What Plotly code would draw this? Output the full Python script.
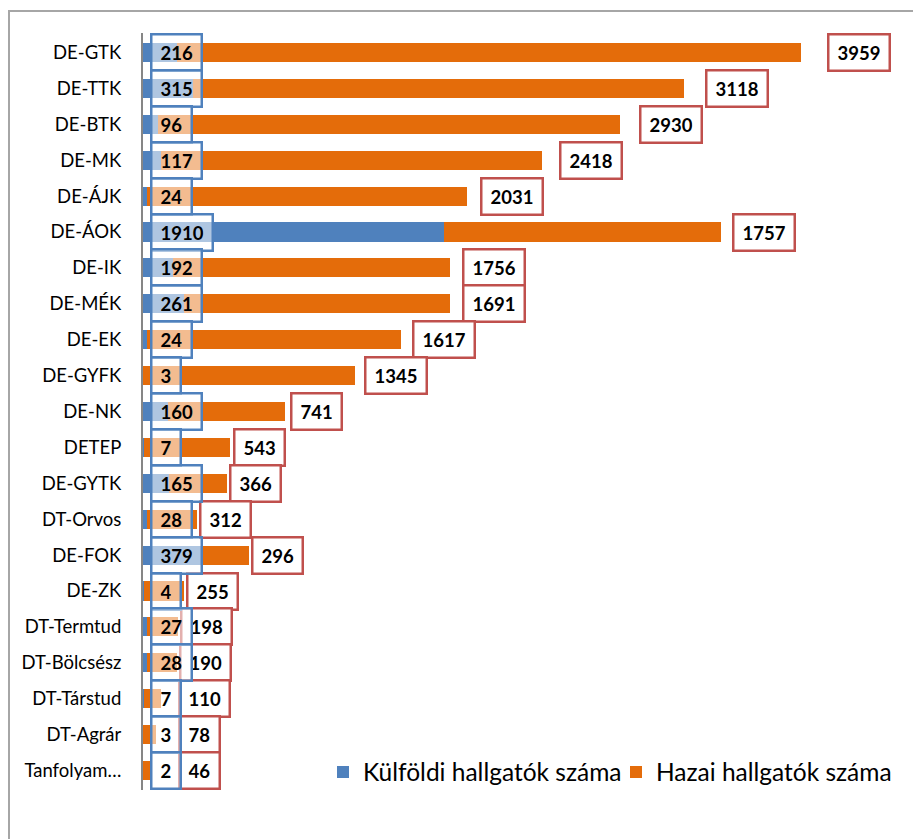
import plotly.graph_objects as go

categories = ["DE-GTK", "DE-TTK", "DE-BTK", "DE-MK", "DE-ÁJK", "DE-ÁOK", "DE-IK", "DE-MÉK",
              "DE-EK", "DE-GYFK", "DE-NK", "DETEP", "DE-GYTK", "DT-Orvos", "DE-FOK", "DE-ZK",
              "DT-Termtud", "DT-Bölcsész", "DT-Társtud", "DT-Agrár", "Tanfolyam…"]
kulfoldi = [216, 315, 96, 117, 24, 1910, 192, 261, 24, 3, 160, 7, 165, 28, 379, 4, 27, 28, 7, 3, 2]
hazai = [3959, 3118, 2930, 2418, 2031, 1757, 1756, 1691, 1617, 1345, 741, 543, 366, 312, 296,
         255, 198, 190, 110, 78, 46]
series_names = ["Külföldi hallgatók száma", "Hazai hallgatók száma"]

BLUE = "#4F81BD"
ORANGE = "#E46C0A"
RED = "#C0504D"
FONT = "Lato"

# page has an 8px body margin: figure sits at (8, 8) in the window
W, H = 913, 831
ML, MR, MT, MB = 135, 0, 25, 49
pw = W - ML - MR
ph = H - MT - MB
XMAX = 4940

fig = go.Figure()
fig.add_trace(go.Bar(y=categories, x=kulfoldi, orientation="h", name=series_names[0],
                     marker=dict(color=BLUE, line=dict(width=0))))
fig.add_trace(go.Bar(y=categories, x=hazai, orientation="h", name=series_names[1],
                     marker=dict(color=ORANGE, line=dict(width=0))))

label_style = dict(showarrow=False, xanchor="left", yanchor="middle", valign="middle",
                   font=dict(family=FONT, size=18.5, color="black"),
                   borderwidth=2.5, borderpad=8, height=18)

annotations = []
# domestic-student labels (beyond bar end)
for c, k, h in zip(categories, kulfoldi, hazai):
    tot = k + h
    xpos = max(tot + 0.043 * h, 222)
    annotations.append(dict(x=xpos, y=c, xref="x", yref="y", text=f"<b>{h}</b>",
                            bgcolor="white", bordercolor=RED, **label_style))
# foreign-student labels (inside base)
for c, k in zip(categories, kulfoldi):
    annotations.append(dict(x=44, y=c, xref="x", yref="y", text=f"<b>{k}</b>",
                            bgcolor="rgba(255,255,255,0.55)", bordercolor=BLUE, **label_style))

shapes = [dict(type="rect", xref="paper", yref="paper",
               x0=(1 - ML) / pw, x1=1.2, y0=-0.3, y1=(H - MB - 3) / ph,
               line=dict(color="#A6A6A6", width=2), fillcolor="rgba(0,0,0,0)", layer="below")]

fig.update_layout(
    width=W, height=H,
    margin=dict(l=ML, r=MR, t=MT, b=MB),
    barmode="stack", bargap=0.47,
    plot_bgcolor="white", paper_bgcolor="white",
    font=dict(family=FONT, size=18, color="black"),
    xaxis=dict(range=[0, XMAX], showticklabels=False, showgrid=False, zeroline=False,
               showline=False, fixedrange=True),
    yaxis=dict(autorange="reversed", showgrid=False, zeroline=False, showline=True,
               linecolor="#868686", linewidth=2, ticks="", ticklabelstandoff=16,
               tickfont=dict(family=FONT, size=18.5)),
    legend=dict(orientation="h", x=(315 - ML) / pw, xanchor="left", y=(782 - 764) / ph,
                yanchor="middle", font=dict(family=FONT, size=24.5), bgcolor="rgba(0,0,0,0)",
                traceorder="normal", entrywidth=248),
    annotations=annotations, shapes=shapes,
)

fig.write_html("out.html")
